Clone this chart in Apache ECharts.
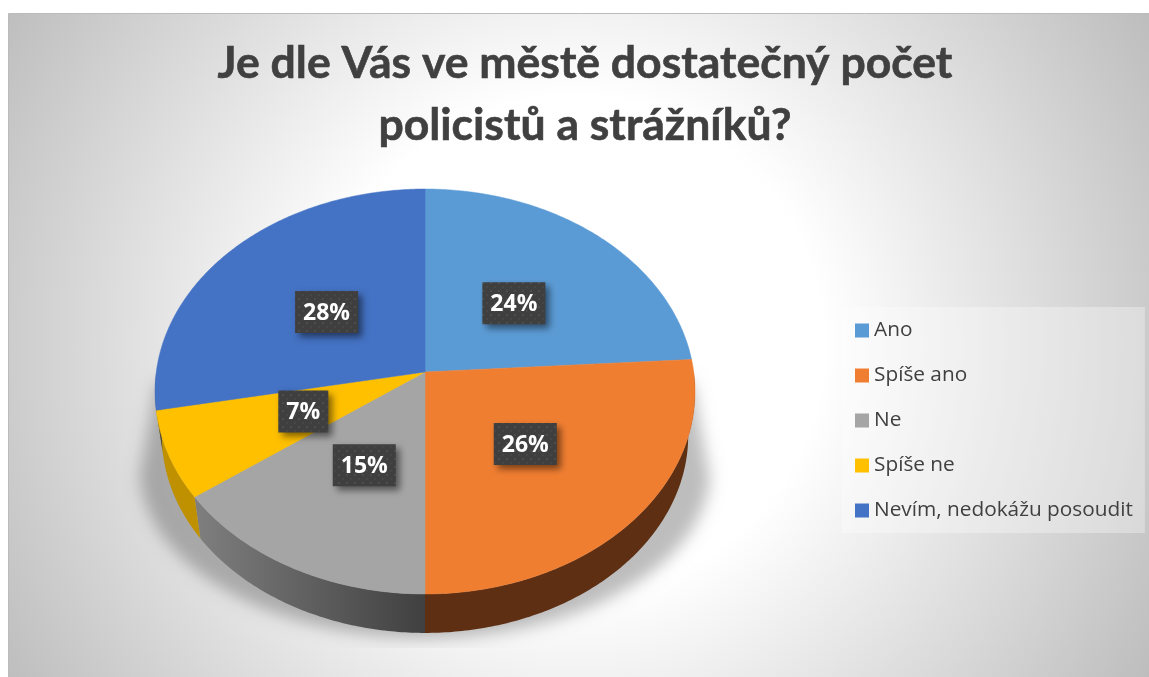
<!DOCTYPE html>
<html><head><meta charset="utf-8">
<style>html,body{margin:0;padding:0;background:#fff}#c{width:1149px;height:677px}</style>
<script src="https://cdn.jsdelivr.net/npm/echarts@6/dist/echarts.min.js"></script>
</head><body><div id="c"></div>
<script>
const categories = ['Ano', 'Spíše ano', 'Ne', 'Spíše ne', 'Nevím, nedokážu posoudit'];
const values = [24, 26, 15, 7, 28];
const topColors = ['#5B9BD5', '#F07E31', '#A5A5A5', '#FFC000', '#4472C4'];
const titleText = 'Je dle Vás ve městě dostatečný počet\npolicistů a strážníků?';

// view of the tilted disc: a perspective projection of the unit circle
const view = {cx: 425, cy: 372, a: 268.7, b: 200.6, k: 0.0963, floorY: 416.5, floorScale: 0.975};
const wallFill = [null, '#5E2F13', null, '#BF9000', null];
const labelShift = [[0, 2], [-1, 1], [3, 0], [4, -1], [2, 2]];

const total = values.reduce((s, v) => s + v, 0);
const project = (deg, r) => {
  const t = deg * Math.PI / 180, X = r * Math.sin(t), Y = -r * Math.cos(t), d = 1 - view.k * Y;
  return [view.cx + view.a * X / d, view.cy + view.b * Y / d];
};
const toFloor = p => [view.cx + view.floorScale * (p[0] - view.cx), view.floorY + view.floorScale * (p[1] - view.cy)];
const arc = (a0, a1) => {
  const n = Math.max(2, Math.ceil((a1 - a0) * 1.5)), pts = [];
  for (let i = 0; i <= n; i++) pts.push(project(a0 + (a1 - a0) * i / n, 1));
  return pts;
};

const dotCanvas = document.createElement('canvas');
dotCanvas.width = dotCanvas.height = 8;
(function () {
  const g = dotCanvas.getContext('2d');
  g.fillStyle = '#3F3F3F'; g.fillRect(0, 0, 8, 8);
  g.fillStyle = '#4C4C4C'; g.fillRect(2, 2, 2, 2);
  g.fillStyle = '#464646'; g.fillRect(6, 6, 2, 2);
})();

function sliceRenderer(i) {
  const before = values.slice(0, i).reduce((s, v) => s + v, 0);
  return function (params, api) {
    const value = api.value(0);
    const a0 = before / total * 360, a1 = (before + value) / total * 360;
    const children = [];
    const w0 = Math.max(a0, 90), w1 = Math.min(a1, 270);
    if (w1 > w0) {
      const top = arc(w0, w1), floor = top.map(toFloor).reverse();
      const xs = top.map(p => p[0]);
      const fill = wallFill[i] || {type: 'linear', global: true, x: Math.min(...xs), y: 0, x2: Math.max(...xs), y2: 0,
        colorStops: [{offset: 0, color: '#7F7F7F'}, {offset: 1, color: '#404040'}]};
      children.push({type: 'polygon', z2: 1, shape: {points: top.concat(floor)}, style: {fill}});
    }
    children.push({type: 'polygon', z2: 10,
      shape: {points: [[view.cx, view.cy]].concat(arc(a0, a1))},
      style: {fill: topColors[i], stroke: topColors[i], lineWidth: 0.5}});
    const c = project((a0 + a1) / 2, 0.5);
    const text = Math.round(value / total * 100) + '%';
    const w = text.length > 2 ? 63 : 50, h = 42;
    const x = c[0] + labelShift[i][0], y = c[1] + labelShift[i][1];
    children.push({type: 'rect', z2: 20, shape: {x: x - w / 2, y: y - h / 2, width: w, height: h},
      style: {fill: {image: dotCanvas, repeat: 'repeat'}, shadowBlur: 7, shadowOffsetX: 4, shadowOffsetY: 4, shadowColor: 'rgba(0,0,0,0.5)'}});
    children.push({type: 'text', z2: 21, x, y: y + 1, style: {text, fill: '#fff', font: 'bold 23px "Open Sans"', align: 'center', verticalAlign: 'middle'}});
    return {type: 'group', children};
  };
}

function shadowRenderer() {
  const pts = [[157, 382], [139, 480]];
  const ex = 285, ey = 470, ery = 168;
  for (let t = 180; t >= 0; t -= 3) {
    const r = t * Math.PI / 180;
    pts.push([view.cx + ex * Math.cos(r), ey + ery * Math.sin(r)]);
  }
  pts.push([710, 480], [692, 382]);
  const off = 2000;
  return {type: 'group', children: [{
    type: 'polygon', z2: 0,
    shape: {points: pts.map(p => [p[0] - off, p[1]])},
    style: {fill: '#000', shadowBlur: 16, shadowOffsetX: off, shadowColor: 'rgba(0,0,0,0.26)'},
    clipPath: {type: 'rect', shape: {x: -off - 100, y: 0, width: off * 3, height: 648}}
  }]};
}

const series = [{type: 'custom', name: '_shadow', coordinateSystem: 'none', silent: true, data: [[0]], renderItem: shadowRenderer}]
  .concat(categories.map((name, i) => ({
    type: 'custom', name, coordinateSystem: 'none', silent: true,
    itemStyle: {color: topColors[i]}, data: [[values[i]]], renderItem: sliceRenderer(i)
  })));

const chart = echarts.init(document.getElementById('c'), null, {renderer: 'canvas'});
chart.setOption({
  animation: false,
  backgroundColor: '#fff',
  tooltip: {show: false},
  graphic: [{type: 'rect', z: -5, shape: {x: 8.5, y: 13.5, width: 1300, height: 800},
    style: {stroke: '#BBBBBB', lineWidth: 1, fill: {type: 'radial', global: true, x: 575, y: 345, r: 670,
      colorStops: [{offset: 0, color: '#FFFFFF'}, {offset: 0.37, color: '#FFFFFF'}, {offset: 1, color: '#BCBCBC'}]}}}],
  title: {text: titleText, left: 580, top: 28, textAlign: 'center',
    textStyle: {fontFamily: 'Lato', fontWeight: 'bold', fontSize: 44.5, lineHeight: 62, color: '#404040',
      textBorderColor: '#404040', textBorderWidth: 0.6}},
  legend: {orient: 'vertical', left: 842, top: 307, data: categories, icon: 'rect', itemWidth: 14, itemHeight: 14,
    itemGap: 24, padding: [13, 12, 12, 13], backgroundColor: 'rgba(255,255,255,0.32)', selectedMode: false,
    textStyle: {fontFamily: 'Open Sans', fontSize: 20.8, lineHeight: 20, color: '#404040'}},
  series
});
</script></body></html>
